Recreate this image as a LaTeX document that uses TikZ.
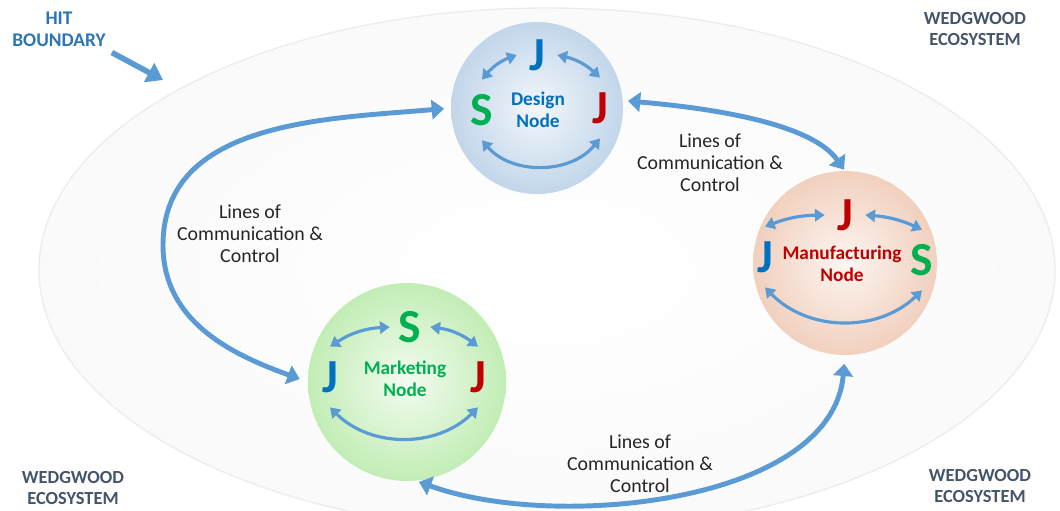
\documentclass[tikz,border=0pt]{standalone}
\usepackage{fontspec}
\setmainfont{Carlito}
\usetikzlibrary{arrows.meta,positioning,calc}

\definecolor{arrowblue}{HTML}{5B9BD5}
\definecolor{jblue}{HTML}{0070C0}
\definecolor{jred}{HTML}{C00000}
\definecolor{sgreen}{HTML}{00B050}
\definecolor{ecogray}{HTML}{44546A}
\definecolor{hitblue}{HTML}{2E75B6}
\definecolor{designball}{HTML}{C2D6EA}
\definecolor{manuball}{HTML}{F1D0BE}
\definecolor{marketball}{HTML}{C2EDB5}

\tikzset{
  ball/.style={circle, inner sep=0pt, outer sep=0pt},
  letter/.style={font=\fontsize{27}{27}\selectfont\bfseries, inner sep=0pt,
    minimum width=0.8cm, minimum height=1.2cm},
  nodetext/.style={font=\fontsize{11}{12.5}\selectfont\bfseries, align=center},
  linestext/.style={font=\fontsize{11.3}{12.5}\selectfont, align=center, text=black!85},
  corner/.style={font=\fontsize{10.5}{12.5}\selectfont\bfseries, align=center, text=ecogray},
  bigarrow/.style={draw=arrowblue, line width=2.8pt,
    {Triangle[length=7pt,width=11pt]}-{Triangle[length=7pt,width=11pt]}},
  smallarrow/.style={draw=arrowblue, line width=1.8pt,
    {Triangle[length=5.5pt,width=7pt]}-{Triangle[length=5.5pt,width=7pt]}},
  hitarrow/.style={draw=arrowblue, line width=3.2pt, -{Triangle[length=9pt,width=12pt]}},
}

\begin{document}
\begin{tikzpicture}[x=0.02cm,y=-0.02cm] % 1 unit = 1 px, y down
  \useasboundingbox (0,0) rectangle (1060,510);

  %Ecosystem (HIT boundary)
  \shade[inner color=white, outer color=black!2, draw=black!7, line width=0.8pt]
    (547,270) ellipse (508 and 262);

  %Balls
  \node[ball, minimum size=3.44cm, inner color=designball!20!white, outer color=designball] (design) at (537,108) {};
  \node[ball, minimum size=3.68cm, inner color=manuball!20!white, outer color=manuball] (manu) at (845,263) {};
  \node[ball, minimum size=3.96cm, inner color=marketball!20!white, outer color=marketball] (market) at (407,382) {};

  %Design node
  \node[letter, text=jblue] (dJt) at (537,55) {J};
  \node[letter, text=sgreen] (dS) at (482,110) {S};
  \node[letter, text=jred] (dJr) at (600,108) {J};
  \node[nodetext, text=jblue] (dtext) at (538,110) {Design\\Node};
  \draw[smallarrow] (dS.north) to[bend left=15] (dJt.west);
  \draw[smallarrow] (dJt.east) to[bend left=15] (dJr.north);
  \draw[smallarrow] (dS.south) to[bend right=50] (dJr.south);

  %Manufacturing node
  \node[letter, text=jred] (mJt) at (845,215) {J};
  \node[letter, text=jblue] (mJl) at (765,257) {J};
  \node[letter, text=sgreen] (mS) at (922,260) {S};
  \node[nodetext, text=jred] (mtext) at (842,264) {Manufacturing\\Node};
  \draw[smallarrow] (mJl.north) to[bend left=10] (mJt.west);
  \draw[smallarrow] (mJt.east) to[bend left=10] (mS.north);
  \draw[smallarrow] (mJl.south) to[bend right=45] (mS.south);

  %Marketing node
  \node[letter, text=sgreen] (kS) at (410,327) {S};
  \node[letter, text=jblue] (kJl) at (330,377) {J};
  \node[letter, text=jred] (kJr) at (478,377) {J};
  \node[nodetext, text=sgreen] (ktext) at (405,379) {Marketing\\Node};
  \draw[smallarrow] (kJl.north) to[bend left=15] (kS.west);
  \draw[smallarrow] (kS.east) to[bend left=15] (kJr.north);
  \draw[smallarrow] (kJl.south) to[bend right=45] (kJr.south);

  %Lines of communication between the nodes
  \coordinate (lw) at (163,245); %left turning point
  \draw[bigarrow, shorten <=4pt, shorten >=5pt] (design.west) to[out=185,in=90] (lw)
    to[out=-90,in=160] (market.west);
  \draw[bigarrow, shorten <=3pt, shorten >=1pt] (design.5) to[out=-5,in=125,looseness=0.7] (manu.north);
  \draw[bigarrow, shorten <=5pt, shorten >=2pt] (manu.south) to[out=-95,in=-20,looseness=0.85] (market.-85);

  \node[linestext] (lines1) at (250,234) {Lines of\\Communication \&\\Control};
  \node[linestext] (lines2) at (710,163) {Lines of\\Communication \&\\Control};
  \node[linestext] (lines3) at (640,464) {Lines of\\Communication \&\\Control};

  %Corner labels
  \node[corner] (eco1) at (975,29) {WEDGWOOD\\ECOSYSTEM};
  \node[corner] (eco2) at (73,488) {WEDGWOOD\\ECOSYSTEM};
  \node[corner] (eco3) at (980,486) {WEDGWOOD\\ECOSYSTEM};
  \node[corner, text=hitblue, font=\fontsize{11}{12.5}\selectfont\bfseries] (hit) at (59,29) {HIT\\BOUNDARY};
  \coordinate (edge) at (163,80); %point on the boundary
  \draw[hitarrow] (hit.south east) -- (edge);
\end{tikzpicture}
\end{document}
